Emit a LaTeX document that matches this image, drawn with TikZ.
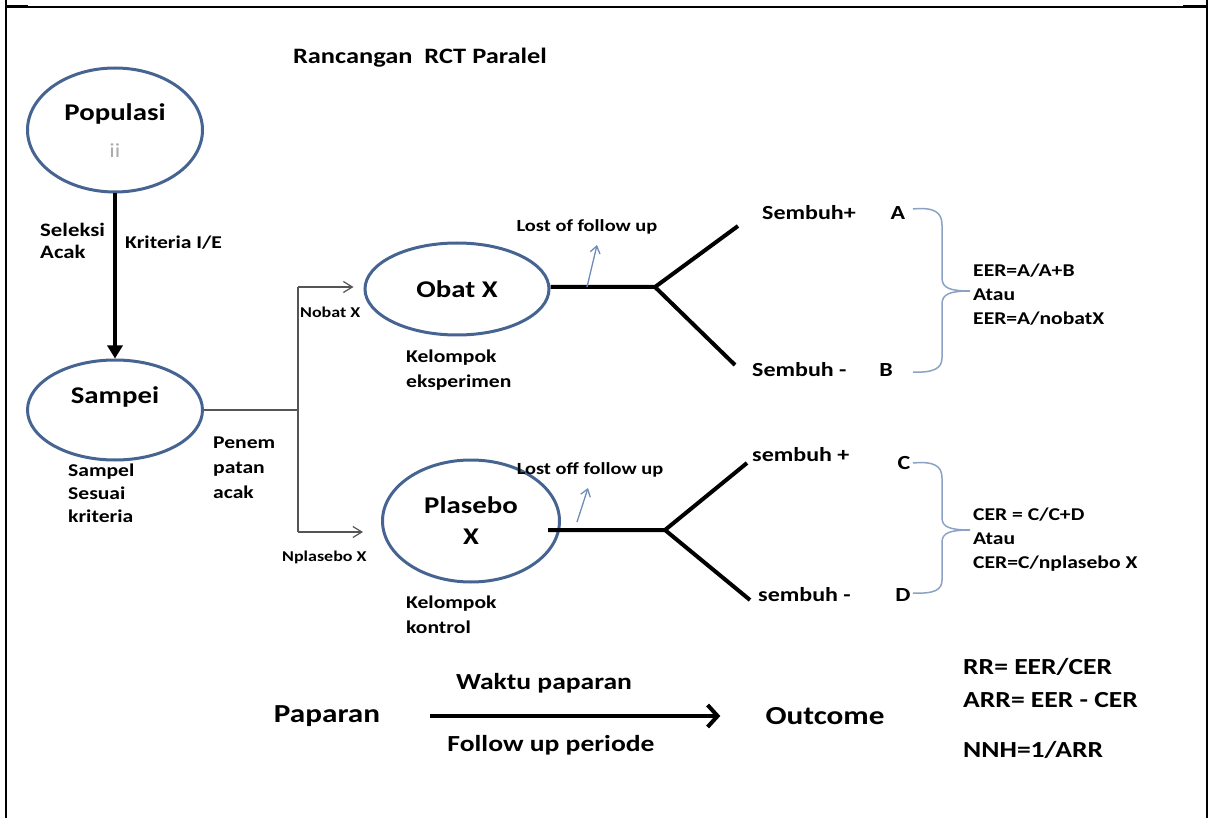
\documentclass[tikz,border=0pt]{standalone}
\usepackage{fontspec}
\setmainfont{Carlito}[FakeStretch=1.2]
\usetikzlibrary{arrows.meta,shapes.geometric}
\definecolor{ovalblue}{RGB}{70,100,145}
\definecolor{tipblue}{RGB}{110,140,185}
\definecolor{braceblue}{RGB}{140,162,196}
\definecolor{linkgray}{RGB}{85,85,85}
\newcommand{\fsz}[2]{\fontsize{#1pt}{#2pt}\selectfont\bfseries}
\begin{document}
\begin{tikzpicture}[x=1pt,y=-1pt,
  oval/.style={draw=ovalblue, line width=3pt, ellipse, inner sep=0pt, align=center},
  txt/.style={inner sep=0pt, align=left},
  branch/.style={line width=4pt, black},
  link/.style={draw=linkgray, line width=1.3pt},
  linkarrow/.style={link, -{Straight Barb[length=9pt,width=11pt,line width=1.2pt]}},
  lostarrow/.style={draw=tipblue, line width=1.3pt, -{Straight Barb[length=7pt,width=10pt]}},
  bracepath/.style={draw=braceblue, line width=1.5pt},
]
\useasboundingbox (0,0) rectangle (1208,818);

% page frame
\draw[line width=1.5pt] (6,7) -- (1206,7);
\draw[line width=3pt] (6,7) -- (28,7);
\draw[line width=3pt] (1183,7) -- (1206,7);
\draw[line width=2.5pt] (6,0) -- (6,818);
\draw[line width=2pt] (1206.5,0) -- (1206.5,818);

% title
\node[txt, font=\fsz{22}{26}] (title) at (420,58) {Rancangan~ RCT Paralel};

% population and sample
\node[oval, minimum width=175pt, minimum height=124pt] (pop) at (115,130) {};
\node[txt, font=\fsz{24}{28}] (popt) at (115,114) {Populasi};
\node[txt, font=\fontsize{20}{24}\selectfont, text=gray!65] (popi) at (115,151) {ii};
\node[oval, minimum width=175pt, minimum height=100pt] (samp) at (115,410) {};
\node[txt, font=\fsz{24}{28}] (sampt) at (115,397) {Sampei};
\draw[line width=4pt, -{Triangle[length=13pt,width=15pt]}] (pop.south) -- (samp.north);

\node[txt, anchor=west, font=\fsz{19}{22}] (sel) at (40,241) {Seleksi\\Acak};
\node[txt, anchor=west, font=\fsz{18}{22}] (krit) at (125,243) {Kriteria I/E};
\node[txt, anchor=west, font=\fsz{18}{23}] (sesuai) at (68,493) {Sampel\\Sesuai\\kriteria};
\node[txt, anchor=west, font=\fsz{18}{25}] (penem) at (213,468) {Penem\\patan\\acak};

% treatment groups
\node[oval, minimum width=184pt, minimum height=92pt, font=\fsz{24}{28}] (obat) at (457,289) {Obat X};
\node[oval, minimum width=177pt, minimum height=122pt, font=\fsz{24}{31}] (plas) at (471,521) {Plasebo\\X};
\node[txt, anchor=west, font=\fsz{18}{25}] (kelA) at (406,370) {Kelompok\\eksperimen};
\node[txt, anchor=west, font=\fsz{18}{25}] (kelB) at (406,615) {Kelompok\\kontrol};

% random allocation
\coordinate (splitT) at (298,287);
\coordinate (splitB) at (298,532);
\draw[link] (samp.east) -- (samp.east -| splitT);
\draw[link] (splitT) -- (splitB);
\draw[linkarrow, shorten >=10pt] (splitT) -- (splitT -| obat.west);
\draw[linkarrow, shorten >=18pt] (splitB) -- (splitB -| plas.west);
\node[txt, anchor=west, font=\fsz{15}{18}] (nobat) at (300,312) {Nobat X};
\node[txt, anchor=west, font=\fsz{15}{18}] (nplas) at (282,557) {Nplasebo X};

% outcome branches, experimental group
\coordinate (b1) at (655,287);
\coordinate (b1u) at (738,226);
\coordinate (b1d) at (735,365);
\draw[branch] (obat.east |- b1) -- (b1) -- (b1u);
\draw[branch] (b1) -- (b1d);
\coordinate (l1a) at (587,287);
\coordinate (l1b) at (597,245);
\draw[lostarrow] (l1a) -- (l1b);
\node[txt, font=\fsz{17}{20}] (lost1) at (587,227) {Lost of follow up};

\node[txt, anchor=west, font=\fsz{20}{24}] (sa) at (762,213) {Sembuh+};
\node[txt, font=\fsz{20}{24}] (ta) at (898,213) {A};
\node[txt, anchor=west, font=\fsz{20}{24}] (sb) at (752,370) {Sembuh -};
\node[txt, font=\fsz{20}{24}] (tb) at (886,370) {B};
\draw[bracepath] (913,209) .. controls (934,207) and (942,212) .. (942,225)
  -- (942,278) .. controls (942,288) and (950,291) .. (970,291)
  .. controls (950,291) and (942,294) .. (942,304)
  -- (942,358) .. controls (942,368) and (934,373) .. (913,372);
\node[txt, anchor=west, font=\fsz{18}{24}] (eer) at (973,295) {EER=A/A+B\\Atau\\EER=A/nobatX};

% outcome branches, control group
\coordinate (p0) at (548,530);
\coordinate (b2) at (665,530);
\coordinate (b2u) at (747,463);
\coordinate (b2d) at (750,600);
\draw[branch] (p0) -- (b2) -- (b2u);
\draw[branch] (b2) -- (b2d);
\coordinate (l2a) at (577,522);
\coordinate (l2b) at (588,488);
\draw[lostarrow] (l2a) -- (l2b);
\node[txt, font=\fsz{17}{20}] (lost2) at (590,470) {Lost off follow up};

\node[txt, anchor=west, font=\fsz{20}{24}] (sc) at (752,455) {sembuh +};
\node[txt, font=\fsz{20}{24}] (tc) at (904,463) {C};
\node[txt, anchor=west, font=\fsz{20}{24}] (sd) at (758,595) {sembuh -};
\node[txt, font=\fsz{20}{24}] (td) at (903,595) {D};
\draw[bracepath] (913,463) .. controls (934,461) and (942,466) .. (942,478)
  -- (942,518) .. controls (942,527) and (950,530) .. (970,530)
  .. controls (950,530) and (942,533) .. (942,542)
  -- (942,580) .. controls (942,590) and (934,594) .. (913,593);
\node[txt, anchor=west, font=\fsz{18}{24}] (cer) at (973,540) {CER = C/C+D\\Atau\\CER=C/nplasebo X};

% exposure timeline
\node[txt, font=\fsz{26}{30}] (pap) at (327,716) {Paparan};
\node[txt, font=\fsz{26}{30}] (out) at (825,716) {Outcome};
\draw[line width=4pt, shorten <=50pt, shorten >=45pt,
  -{Straight Barb[length=10pt,width=22pt,line width=4pt]}] (pap) -- (out);
\node[txt, font=\fsz{23}{27}] (waktu) at (544,683) {Waktu paparan};
\node[txt, font=\fsz{23}{27}] (fup) at (551,745) {Follow up periode};

% effect measures
\node[txt, anchor=west, font=\fsz{23}{27}] (rr) at (963,667) {RR= EER/CER};
\node[txt, anchor=west, font=\fsz{23}{27}] (arr) at (963,700) {ARR= EER - CER};
\node[txt, anchor=west, font=\fsz{23}{27}] (nnh) at (963,750) {NNH=1/ARR};
\end{tikzpicture}
\end{document}
